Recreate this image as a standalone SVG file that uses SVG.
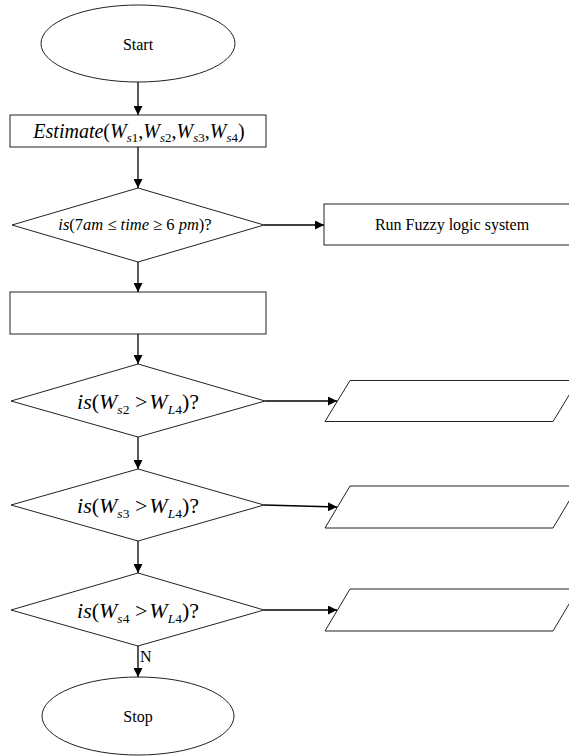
<svg xmlns="http://www.w3.org/2000/svg" width="569" height="756" viewBox="0 0 569 756">
<defs>
<marker id="arr" viewBox="0 0 10 10" refX="10" refY="5" markerWidth="9" markerHeight="9" markerUnits="userSpaceOnUse" orient="auto">
<path d="M0,0 L10,5 L0,10 z" fill="#000"/>
</marker>
<style>
.s{fill:#fff;stroke:#222;stroke-width:1}
.c{fill:none;stroke:#000;stroke-width:1.3;marker-end:url(#arr)}
.t{font-family:"Liberation Serif","Times New Roman",serif;fill:#000}
.i{font-style:italic}
</style>
</defs>
<g id="start">
<ellipse class="s" cx="138" cy="43.5" rx="97" ry="38.5"/>
<text class="t" x="138" y="50" font-size="16" text-anchor="middle">Start</text>
</g>
<g id="estimate">
<rect class="s" x="10" y="115" width="256" height="32"/>
<text class="t" x="139" y="138" font-size="20" text-anchor="middle"><tspan class="i">Estimate</tspan>(<tspan class="i">W</tspan><tspan font-size="13" dy="4"><tspan class="i">s</tspan>1</tspan><tspan dy="-4">,</tspan><tspan class="i">W</tspan><tspan font-size="13" dy="4"><tspan class="i">s</tspan>2</tspan><tspan dy="-4">,</tspan><tspan class="i">W</tspan><tspan font-size="13" dy="4"><tspan class="i">s</tspan>3</tspan><tspan dy="-4">,</tspan><tspan class="i">W</tspan><tspan font-size="13" dy="4"><tspan class="i">s</tspan>4</tspan><tspan dy="-4">)</tspan></text>
</g>
<g id="d1">
<polygon class="s" points="138,188 264,225 138,262 12,225"/>
<text class="t" x="135" y="230" font-size="16.5" text-anchor="middle"><tspan class="i">is</tspan>(7<tspan class="i">am</tspan> ≤ <tspan class="i">time</tspan> ≥ 6 <tspan class="i">pm</tspan>)?</text>
</g>
<g id="fuzzy">
<rect class="s" x="324" y="204" width="260" height="41"/>
<text class="t" x="452" y="230" font-size="16" text-anchor="middle">Run Fuzzy logic system</text>
</g>
<g id="process">
<rect class="s" x="10" y="292" width="256" height="42"/>
</g>
<g id="d2">
<polygon class="s" points="138,364 265,401 138,437 11,401"/>
<text class="t" x="138" y="409" font-size="22" text-anchor="middle"><tspan class="i">is</tspan>(<tspan class="i">W</tspan><tspan font-size="13.5" dy="5"><tspan class="i">s</tspan>2</tspan><tspan dy="-5"> &gt;</tspan><tspan class="i" dx="2">W</tspan><tspan font-size="13.5" dy="5"><tspan class="i">L</tspan>4</tspan><tspan dy="-5">)?</tspan></text>
</g>
<g id="p1">
<polygon class="s" points="350,380.5 578,380.5 553,421.5 325,421.5"/>
</g>
<g id="d3">
<polygon class="s" points="138,469 264,505 138,541 11,505"/>
<text class="t" x="138" y="513" font-size="22" text-anchor="middle"><tspan class="i">is</tspan>(<tspan class="i">W</tspan><tspan font-size="13.5" dy="5"><tspan class="i">s</tspan>3</tspan><tspan dy="-5"> &gt;</tspan><tspan class="i" dx="2">W</tspan><tspan font-size="13.5" dy="5"><tspan class="i">L</tspan>4</tspan><tspan dy="-5">)?</tspan></text>
</g>
<g id="p2">
<polygon class="s" points="350,486 578,486 553,528 325,528"/>
</g>
<g id="d4">
<polygon class="s" points="138,573 264,610 138,646 11,610"/>
<text class="t" x="138" y="618" font-size="22" text-anchor="middle"><tspan class="i">is</tspan>(<tspan class="i">W</tspan><tspan font-size="13.5" dy="5"><tspan class="i">s</tspan>4</tspan><tspan dy="-5"> &gt;</tspan><tspan class="i" dx="2">W</tspan><tspan font-size="13.5" dy="5"><tspan class="i">L</tspan>4</tspan><tspan dy="-5">)?</tspan></text>
</g>
<g id="p3">
<polygon class="s" points="350,589 578,589 553,631 325,631"/>
</g>
<g id="stop">
<ellipse class="s" cx="138" cy="716" rx="96" ry="39"/>
<text class="t" x="138" y="722" font-size="16" text-anchor="middle">Stop</text>
</g>
<g id="connectors">
<line class="c" x1="138" y1="82" x2="138" y2="115"/>
<line class="c" x1="138" y1="147" x2="138" y2="188"/>
<line class="c" x1="264" y1="225" x2="324" y2="225"/>
<line class="c" x1="138" y1="262" x2="138" y2="292"/>
<line class="c" x1="138" y1="334" x2="138" y2="364"/>
<line class="c" x1="265" y1="401" x2="337" y2="401"/>
<line class="c" x1="138" y1="437" x2="138" y2="469"/>
<line class="c" x1="264" y1="505" x2="337" y2="507"/>
<line class="c" x1="138" y1="541" x2="138" y2="573"/>
<line class="c" x1="264" y1="610" x2="337" y2="610"/>
<line class="c" x1="138" y1="646" x2="138" y2="677"/>
<text class="t" x="140" y="662" font-size="16">N</text>
</g>
</svg>
